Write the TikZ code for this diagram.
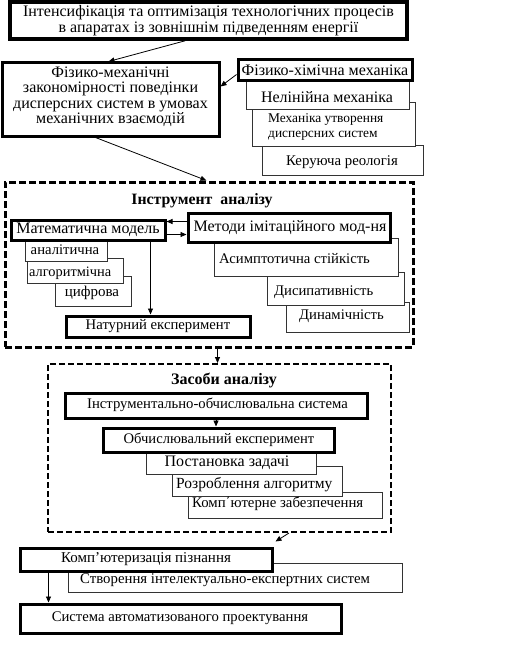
\documentclass[tikz,border=0pt]{standalone}
\usepackage{fontspec}
\setmainfont{Liberation Serif}
\usetikzlibrary{fit,arrows.meta}
\begin{document}
\begin{tikzpicture}[x=1pt,y=-1pt,
  thickbox/.style={draw, line width=3pt, fill=white, inner sep=0pt},
  subbox/.style={draw=black!80, line width=1pt, fill=white, inner sep=0pt},
  dbox/.style={draw, line width=3pt, dash pattern=on 7pt off 3pt, inner sep=0pt},
  sz/.style={font=\fontsize{#1}{16}\selectfont},
  txt/.style={inner sep=0pt, align=center, sz=14.7},
  ltxt/.style={txt, anchor=west, align=left},
  ttl/.style={inner sep=0pt, font=\bfseries\fontsize{#1}{18}\selectfont},
  arr/.style={line width=0.8pt, -{Triangle[length=6pt,width=5pt]}}]
\useasboundingbox (0,0) rectangle (512,669);

% dashed containers
\node[dbox, fit={(5,182) (413,347)}] (d1) {};
\node[dbox, line width=2pt, dash pattern=on 6pt off 3pt, fit={(48,364) (391,532)}] (d2) {};

% upper part
\node[thickbox, line width=3.5pt, fit={(10,2) (407,39)}] (top) {};
\node[subbox, fit={(262,145) (423,175)}] (ker) {};
\node[subbox, fit={(252,102) (415,146)}] (meh) {};
\node[subbox, fit={(246,80) (409,109)}] (nel) {};
\node[thickbox, fit={(238,60) (412,80)}] (fh) {};
\node[thickbox, fit={(2,63) (219,136)}] (fm) {};

% instrument of analysis
\node[subbox, fit={(55,276) (131,306)}] (cyf) {};
\node[subbox, fit={(27,258) (123,283)}] (algo) {};
\node[subbox, fit={(25,240) (107,261)}] (anal) {};
\node[thickbox, fit={(11,220) (165,240)}] (matem) {};
\node[subbox, fit={(286,302) (409,332)}] (dyn) {};
\node[subbox, fit={(267,272) (404,305)}] (dys) {};
\node[subbox, fit={(214,238) (398,276)}] (asym) {};
\node[thickbox, fit={(188,213) (390,242)}] (metody) {};
\node[thickbox, fit={(66,316) (250,337)}] (natur) {};

% means of analysis
\node[thickbox, fit={(65,393) (367,418)}] (ins) {};
\node[subbox, fit={(188,492) (382,518)}] (kz) {};
\node[subbox, fit={(172,466) (342,496)}] (roz) {};
\node[subbox, fit={(146,452) (316,474)}] (post) {};
\node[thickbox, fit={(103,428) (334,452)}] (obch) {};

% bottom
\node[subbox, fit={(68,563) (402,592)}] (stv) {};
\node[thickbox, fit={(20,548) (272,571)}] (komp) {};
\node[thickbox, fit={(20,604) (341,633)}] (sapr) {};

% texts
\node[txt, sz=16] (t-top) at (208.5,21) {Інтенсифікація та оптимізація технологічних процесів\\в апаратах із зовнішнім підведенням енергії};
\node[txt, font=\fontsize{16}{15.5}\selectfont] (t-fm) at (110.5,96.5) {Фізико-механічні\\закономірності поведінки\\дисперсних систем в умовах\\механічних взаємодій};
\node[txt, sz=16] (t-fh) at (325,70) {Фізико-хімічна механіка};
\node[txt, sz=16] (t-nel) at (327,97) {Нелінійна механіка};
\node[ltxt, font=\fontsize{13.4}{15}\selectfont] (t-meh) at (268,126.5) {Механіка утворення\\дисперсних систем};
\node[txt, sz=14.8] (t-ker) at (342,162) {Керуюча реологія};
\node[ttl=15.8] (t-i) at (202,201) {Інструмент\ \ аналізу};
\node[txt, sz=16] (t-matem) at (88,230) {Математична модель};
\node[txt, sz=16] (t-metody) at (290,228) {Методи імітаційного мод-ня};
\node[txt] (t-anal) at (65,250) {аналітична};
\node[ltxt, sz=14.4] (t-algo) at (29,273) {алгоритмічна};
\node[txt, sz=15] (t-cyf) at (92,293) {цифрова};
\node[txt] (t-natur) at (158,326) {Натурний експеримент};
\node[ltxt] (t-asym) at (219,259) {Асимптотична стійкість};
\node[ltxt] (t-dys) at (274,292) {Дисипативність};
\node[ltxt] (t-dyn) at (299,316) {Динамічність};
\node[ttl=16] (t-z) at (224,380) {Засоби аналізу};
\node[txt] (t-ins) at (217.5,405) {Інструментально-обчислювальна система};
\node[txt, sz=14.6] (t-obch) at (219,440) {Обчислювальний експеримент};
\node[txt, sz=16] (t-post) at (227,463) {Постановка задачі};
\node[ltxt, sz=15.5] (t-roz) at (176,485) {Розроблення алгоритму};
\node[ltxt, sz=14.8] (t-kz) at (192,504) {Комп΄ютерне забезпечення};
\node[txt, sz=15] (t-komp) at (146,559) {Комп’ютеризація пізнання};
\node[ltxt, sz=14.8] (t-stv) at (80,580) {Створення інтелектуально-експертних систем};
\node[txt] (t-sapr) at (180,618) {Система автоматизованого проектування};

% connectors
\draw[arr] ([xshift=177pt]top.south west) -- ([xshift=108pt]fm.north west);
\draw[arr] ([yshift=-16pt]fh.north west) -- ([yshift=-25pt]fm.north east);
\draw[arr] ([xshift=95pt]fm.south west) -- ([xshift=203pt]d1.north west);
\coordinate (m1) at ([yshift=-10pt]metody.north west);
\draw[arr] (m1) -- (m1 -| matem.east);
\coordinate (m2) at ([yshift=-16pt]matem.north east);
\draw[arr] (m2) -- (m2 -| metody.west);
\coordinate (m3) at ([xshift=-16pt]matem.south east);
\draw[arr] (m3) -- (m3 |- natur.north);
\coordinate (m4) at ([xshift=214pt]d1.south west);
\draw[arr] (m4) -- (m4 |- d2.north);
\draw[arr] (ins.south) -- (ins.south |- obch.north);
\draw[arr] ([xshift=242pt]d2.south west) -- ([shift={(2pt,5pt)}]komp.north east);
\coordinate (k1) at ([xshift=30pt]komp.south west);
\draw[arr] (k1) -- (k1 |- sapr.north);
\end{tikzpicture}
\end{document}
